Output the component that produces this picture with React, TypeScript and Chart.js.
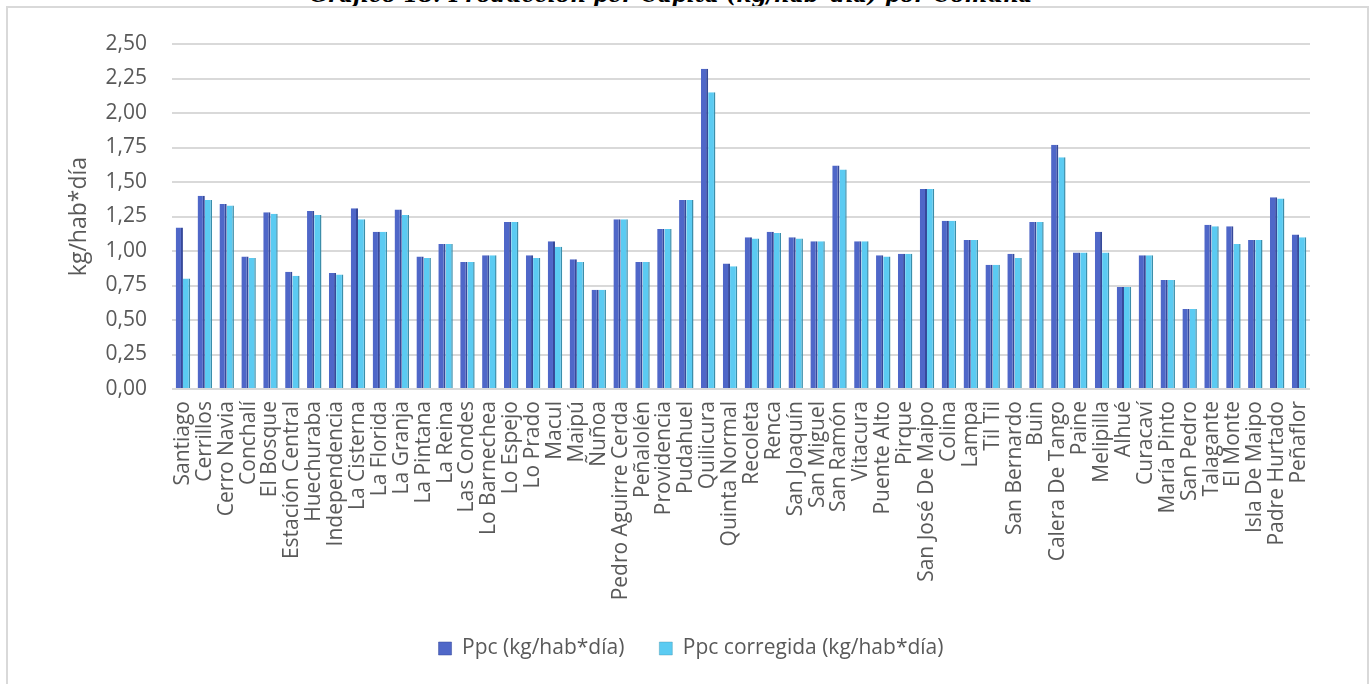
import React, { useEffect, useRef } from "react";
import { Chart, registerables } from "chart.js";

Chart.register(...registerables);

const categories = [
  "Santiago", "Cerrillos", "Cerro Navia", "Conchalí", "El Bosque", "Estación Central",
  "Huechuraba", "Independencia", "La Cisterna", "La Florida", "La Granja", "La Pintana",
  "La Reina", "Las Condes", "Lo Barnechea", "Lo Espejo", "Lo Prado", "Macul", "Maipú",
  "Ñuñoa", "Pedro Aguirre Cerda", "Peñalolén", "Providencia", "Pudahuel", "Quilicura",
  "Quinta Normal", "Recoleta", "Renca", "San Joaquín", "San Miguel", "San Ramón",
  "Vitacura", "Puente Alto", "Pirque", "San José De Maipo", "Colina", "Lampa", "Til Til",
  "San Bernardo", "Buin", "Calera De Tango", "Paine", "Melipilla", "Alhué", "Curacaví",
  "María Pinto", "San Pedro", "Talagante", "El Monte", "Isla De Maipo", "Padre Hurtado",
  "Peñaflor",
];

const ppc = [
  1.17, 1.40, 1.34, 0.96, 1.28, 0.85, 1.29, 0.84, 1.31, 1.14, 1.30, 0.96, 1.05,
  0.92, 0.97, 1.21, 0.97, 1.07, 0.94, 0.72, 1.23, 0.92, 1.16, 1.37, 2.32, 0.91,
  1.10, 1.14, 1.10, 1.07, 1.62, 1.07, 0.97, 0.98, 1.45, 1.22, 1.08, 0.90, 0.98,
  1.21, 1.77, 0.99, 1.14, 0.74, 0.97, 0.79, 0.58, 1.19, 1.18, 1.08, 1.39, 1.12,
];

const ppcCorregida = [
  0.80, 1.37, 1.33, 0.95, 1.27, 0.82, 1.26, 0.83, 1.23, 1.14, 1.26, 0.95, 1.05,
  0.92, 0.97, 1.21, 0.95, 1.03, 0.92, 0.72, 1.23, 0.92, 1.16, 1.37, 2.15, 0.89,
  1.09, 1.13, 1.09, 1.07, 1.59, 1.07, 0.96, 0.98, 1.45, 1.22, 1.08, 0.90, 0.95,
  1.21, 1.68, 0.99, 0.99, 0.74, 0.97, 0.79, 0.58, 1.18, 1.05, 1.08, 1.38, 1.10,
];

const seriesNames = ["Ppc (kg/hab*día)", "Ppc corregida (kg/hab*día)"];
const yAxisTitle = "kg/hab*día";
const chartTitle = "Gráfico 18: Producción per Cápita (kg/hab*día) por Comuna";

const TEXT = "#595959";
const FONT = "'Open Sans', 'Noto Sans', sans-serif";

const shiftLegend = {
  id: "shiftLegend",
  afterLayout(chart: any) {
    const l = chart.legend;
    if (l) {
      l.left += 36;
      l.right += 36;
    }
  },
};

export default function App() {
  const ref = useRef<HTMLCanvasElement | null>(null);

  useEffect(() => {
    if (!ref.current) return;
    const chart = new Chart(ref.current, {
      type: "bar",
      data: {
        labels: categories,
        datasets: [
          {
            label: seriesNames[0],
            data: ppc,
            backgroundColor: "#4F67C8",
            borderColor: "#36499A",
            borderWidth: { top: 0, left: 0, bottom: 0, right: 2 },
            borderSkipped: false,
          },
          {
            label: seriesNames[1],
            data: ppcCorregida,
            backgroundColor: "#5BCBF2",
            borderColor: "#3C8EAA",
            borderWidth: { top: 0, left: 0, bottom: 0, right: 1.5 },
            borderSkipped: false,
          },
        ],
      },
      plugins: [shiftLegend],
      options: {
        responsive: false,
        animation: false,
        devicePixelRatio: 1,
        layout: { padding: { left: 0, top: 44, right: 62, bottom: 15 } },
        datasets: { bar: { categoryPercentage: 0.66, barPercentage: 1.0 } },
        plugins: {
          tooltip: { enabled: false },
          legend: {
            position: "bottom",
            labels: {
              color: TEXT,
              font: { family: FONT, size: 21 },
              boxWidth: 13,
              boxHeight: 13,
              padding: 35,
            },
          },
        },
        scales: {
          x: {
            grid: { display: false },
            border: { display: false },
            ticks: {
              autoSkip: false,
              maxRotation: 90,
              minRotation: 90,
              color: TEXT,
              font: { family: FONT, size: 21 },
              padding: 4,
            },
            afterFit: (s: any) => {
              s.height = 214;
            },
          },
          y: {
            min: 0,
            max: 2.5,
            grid: { color: "#d9d9d9", lineWidth: 2, drawTicks: false },
            border: { display: false },
            ticks: {
              stepSize: 0.25,
              color: TEXT,
              font: { family: FONT, size: 21 },
              padding: 25,
              callback: (v: any) => Number(v).toFixed(2).replace(".", ","),
            },
            title: {
              display: true,
              text: yAxisTitle,
              color: TEXT,
              font: { family: FONT, size: 23 },
              padding: { top: 66, bottom: 0 },
            },
            afterFit: (s: any) => {
              s.width = 172;
            },
          },
        },
      },
    });
    return () => chart.destroy();
  }, []);

  return (
    <div
      style={{
        position: "fixed",
        left: 0,
        top: 0,
        width: 1372,
        height: 684,
        overflow: "hidden",
        background: "#fff",
      }}
    >
      <div
        style={{
          position: "absolute",
          left: 0,
          top: -18,
          width: 1342,
          textAlign: "center",
          fontFamily: "'DejaVu Serif', serif",
          fontWeight: "bold",
          fontStyle: "italic",
          fontSize: 21.5,
          lineHeight: "26px",
          color: "#000",
          whiteSpace: "nowrap",
        }}
      >
        {chartTitle}
      </div>
      <div
        style={{
          position: "absolute",
          left: 6,
          top: 6,
          width: 1363,
          height: 720,
          border: "2px solid #d9d9d9",
          boxSizing: "border-box",
        }}
      />
      <canvas
        ref={ref}
        width={1372}
        height={684}
        style={{ position: "absolute", left: 0, top: 0, width: 1372, height: 684 }}
      />
    </div>
  );
}
